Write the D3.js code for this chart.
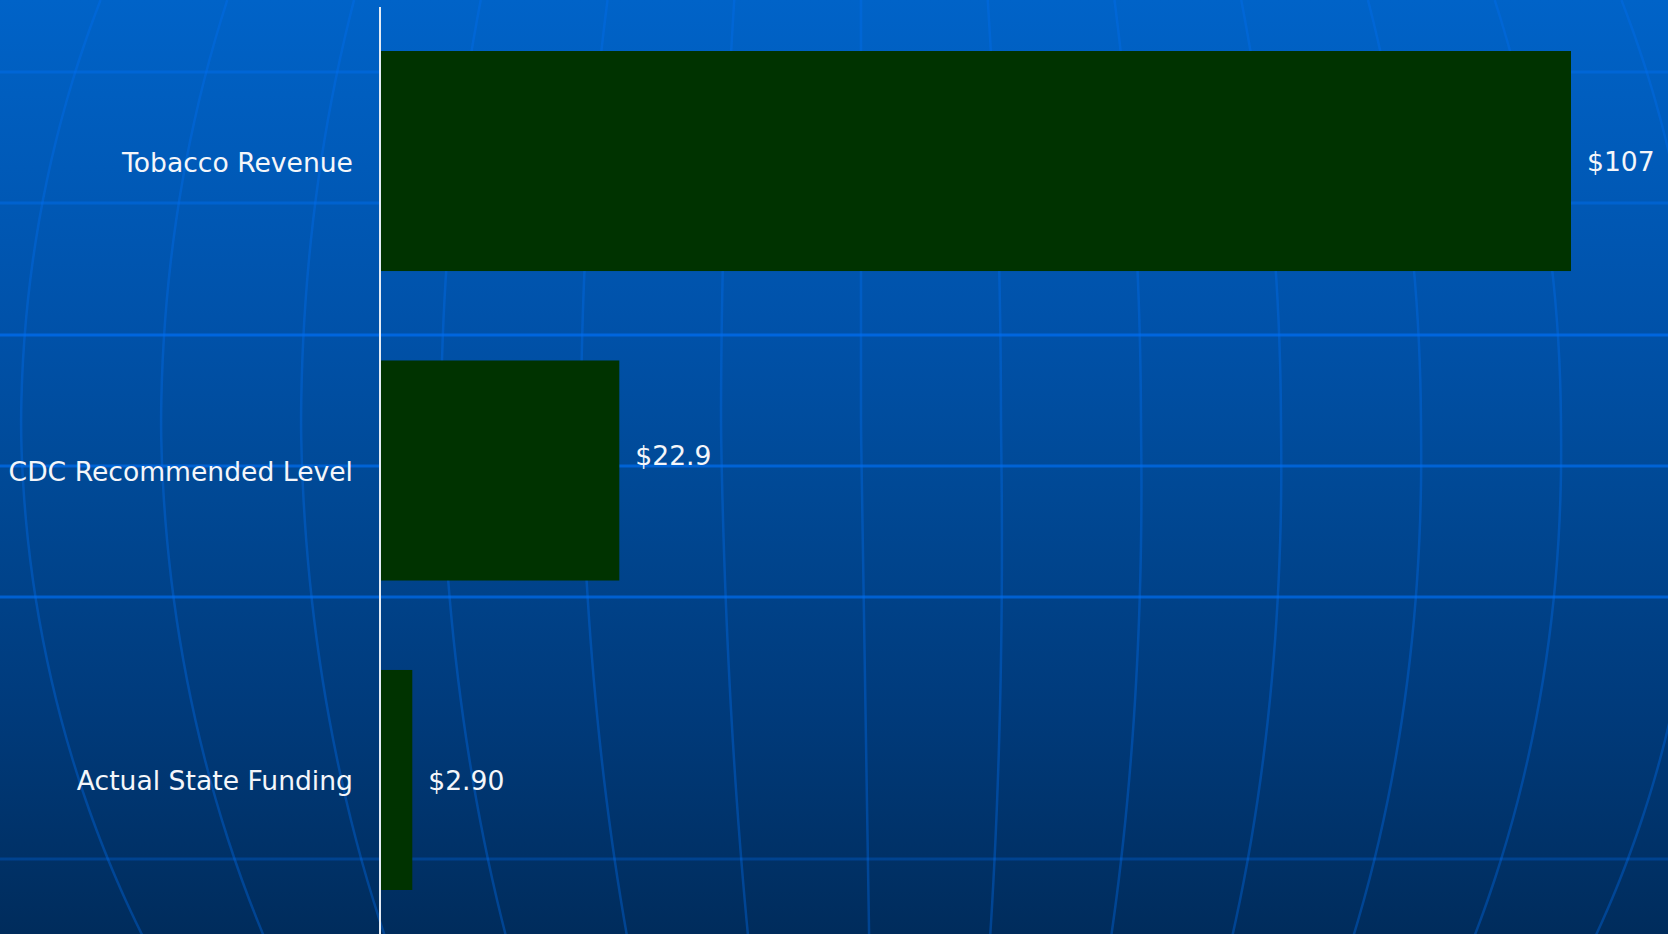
<!DOCTYPE html>
<html>
<head>
<meta charset="utf-8">
<script src="https://cdn.jsdelivr.net/npm/d3@7"></script>
<style>
  html, body { margin: 0; padding: 0; overflow: hidden; background: #002d5e; }
  svg { display: block; }
</style>
</head>
<body>
<div id="chart_div"></div>
<script>
// chart data
const categories = ["Tobacco Revenue", "CDC Recommended Level", "Actual State Funding"];
const values = [107, 21.5, 2.9];
const valueLabels = ["$107", "$22.9", "$2.90"];

const chart_width = 1668, chart_height = 934;
const margin = {top: 51, right: 97, bottom: 44, left: 380};

const svg = d3.select("#chart_div")
  .append("svg")
    .attr("width", chart_width)
    .attr("height", chart_height);

// background gradient
const defs = svg.append("defs");
const grad = defs.append("linearGradient")
    .attr("id", "bg_grad")
    .attr("x1", 0).attr("y1", 0).attr("x2", 0).attr("y2", 1);
[["0%", "#0063c8"], ["36%", "#0051a8"], ["50%", "#004a98"], ["77%", "#003a7a"], ["100%", "#002c5c"]]
  .forEach(s => grad.append("stop").attr("offset", s[0]).attr("stop-color", s[1]));

svg.append("rect")
    .attr("width", chart_width)
    .attr("height", chart_height)
    .attr("fill", "url(#bg_grad)");

// globe-like decoration lines behind the chart
const deco = svg.append("g");
const hLines = [72, 203, 335, 466, 597, 728, 859];
const hOpacity = [0.45, 0.45, 0.75, 0.7, 0.7, 0, 0.3];
deco.selectAll("line.hgrid")
  .data(hLines)
  .join("line")
    .attr("class", "hgrid")
    .attr("x1", 0).attr("x2", chart_width)
    .attr("y1", d => d).attr("y2", d => d)
    .attr("stroke", "rgb(0,110,240)")
    .attr("stroke-width", 3)
    .attr("stroke-opacity", (d, i) => hOpacity[i]);

const globe_cy = 429, globe_r = 1010, meridian_step = 140;
// globe centre drifts a little to the right towards the bottom
const globe_cx = yy => 861 + Math.max(0, yy - globe_cy) * 0.016;
const meridian = d3.line().curve(d3.curveBasis);
deco.selectAll("path.meridian")
  .data(d3.range(-6, 7))
  .join("path")
    .attr("class", "meridian")
    .attr("d", k => {
      const pts = d3.range(0, chart_height + 20, 20).map(yy => {
        const s = (yy - globe_cy) / globe_r;
        return [globe_cx(yy) + k * meridian_step * Math.sqrt(1 - s * s), yy];
      });
      return meridian(pts);
    })
    .attr("fill", "none")
    .attr("stroke", "rgb(0,110,240)")
    .attr("stroke-width", 2.5)
    .attr("stroke-opacity", 0.36);

// scales
const x = d3.scaleLinear()
  .domain([0, 107])
  .range([margin.left, chart_width - margin.right]);

const y = d3.scaleBand()
  .domain(categories)
  .range([margin.top, chart_height - margin.bottom])
  .paddingInner(0.289)
  .paddingOuter(0);

// bars
svg.append("g")
  .selectAll("rect")
  .data(values)
  .join("rect")
    .attr("x", x(0))
    .attr("y", (d, i) => y(categories[i]))
    .attr("width", d => x(d) - x(0))
    .attr("height", y.bandwidth())
    .attr("fill", "#003300");

// category axis
const yAxis = svg.append("g")
  .attr("transform", `translate(${margin.left}, 2)`)
  .call(d3.axisLeft(y).tickSize(0).tickPadding(27));
yAxis.select(".domain").remove();
yAxis.selectAll("text")
  .attr("fill", "#f4f6fa")
  .style("font-family", "'DejaVu Sans', Verdana, sans-serif")
  .style("font-size", "26.6px");

// axis line
svg.append("line")
  .attr("x1", margin.left).attr("x2", margin.left)
  .attr("y1", 7).attr("y2", chart_height)
  .attr("stroke", "#e4ecf6")
  .attr("stroke-width", 2);

// value labels
svg.append("g")
  .selectAll("text")
  .data(values)
  .join("text")
    .attr("x", d => x(d) + 16)
    .attr("y", (d, i) => y(categories[i]) + y.bandwidth() / 2 + (i === 1 ? -15 : 1))
    .attr("dy", "0.35em")
    .attr("fill", "#f4f6fa")
    .style("font-family", "'DejaVu Sans', Verdana, sans-serif")
    .style("font-size", "26.6px")
    .text((d, i) => valueLabels[i]);
</script>
</body>
</html>
